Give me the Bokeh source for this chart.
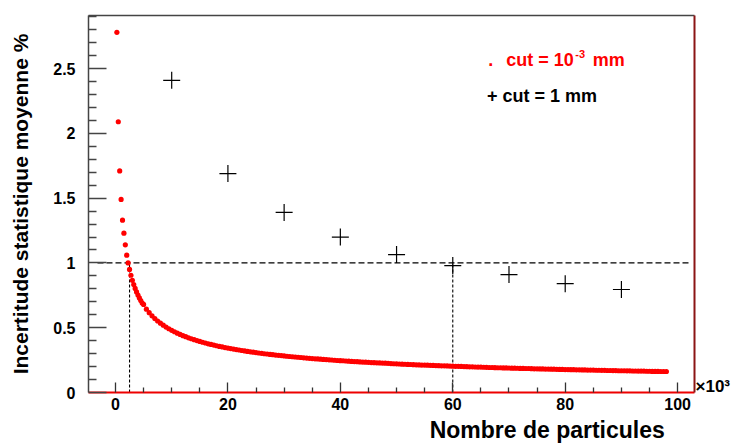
import math
import numpy as np
from bokeh.plotting import figure
from bokeh.models import (Range1d, FixedTicker, LinearAxis, Label,
                          CustomJSTickFormatter, ColumnDataSource)
from bokeh.embed import file_html
from bokeh.resources import INLINE

# ---------------- data (x in units of 10^3 particles) ----------------
n_fine = np.arange(0.25, 5.001, 0.25)
unc_fine = [2.78, 2.09, 1.71, 1.49, 1.33, 1.23, 1.14, 1.06, 1.00, 0.95,
            0.905, 0.866, 0.833, 0.803, 0.776, 0.752, 0.730, 0.710, 0.691, 0.680]

n_coarse = np.arange(5.5, 98.001, 0.5)
unc_coarse = [
    0.643, 0.616, 0.592, 0.571, 0.552, 0.535, 0.520, 0.505, 0.492, 0.480,
    0.469, 0.458, 0.448, 0.439, 0.431, 0.422, 0.415, 0.408, 0.401, 0.394,
    0.388, 0.382, 0.376, 0.371, 0.366, 0.361, 0.356, 0.352, 0.347, 0.343,
    0.339, 0.335, 0.331, 0.328, 0.324, 0.321, 0.317, 0.314, 0.311, 0.308,
    0.305, 0.302, 0.299, 0.297, 0.294, 0.292, 0.289, 0.287, 0.285, 0.282,
    0.280, 0.278, 0.276, 0.274, 0.272, 0.270, 0.268, 0.266, 0.264, 0.262,
    0.260, 0.259, 0.257, 0.255, 0.254, 0.252, 0.251, 0.249, 0.247, 0.246,
    0.245, 0.243, 0.242, 0.240, 0.239, 0.238, 0.236, 0.235, 0.234, 0.233,
    0.231, 0.230, 0.229, 0.228, 0.227, 0.226, 0.225, 0.223, 0.222, 0.221,
    0.220, 0.219, 0.218, 0.217, 0.216, 0.215, 0.214, 0.213, 0.212, 0.212,
    0.211, 0.210, 0.209, 0.208, 0.207, 0.206, 0.206, 0.205, 0.204, 0.203,
    0.202, 0.202, 0.201, 0.200, 0.199, 0.198, 0.198, 0.197, 0.196, 0.196,
    0.195, 0.194, 0.193, 0.193, 0.192, 0.191, 0.191, 0.190, 0.190, 0.189,
    0.188, 0.188, 0.187, 0.186, 0.186, 0.185, 0.185, 0.184, 0.183, 0.183,
    0.182, 0.182, 0.181, 0.181, 0.180, 0.180, 0.179, 0.178, 0.178, 0.177,
    0.177, 0.176, 0.176, 0.175, 0.175, 0.174, 0.174, 0.173, 0.173, 0.173,
    0.172, 0.172, 0.171, 0.171, 0.170, 0.170, 0.169, 0.169, 0.168, 0.168,
    0.168, 0.167, 0.167, 0.166, 0.166, 0.165, 0.165, 0.165, 0.164, 0.164,
    0.163, 0.163, 0.163, 0.162, 0.162, 0.162,
]

n_cross = [10, 20, 30, 40, 50, 60, 70, 80, 90]
unc_cross = [2.41, 1.69, 1.39, 1.20, 1.065, 0.98, 0.91, 0.84, 0.795]

threshold = 1.0
n_at_threshold = [2.5, 60]
x_ticks = [0, 20, 40, 60, 80, 100]
x_minor = [5, 10, 15, 25, 30, 35, 45, 50, 55, 65, 70, 75, 85, 90, 95]
y_ticks = [0, 0.5, 1, 1.5, 2, 2.5]
y_minor = [0.1, 0.2, 0.3, 0.4, 0.6, 0.7, 0.8, 0.9, 1.1, 1.2, 1.3, 1.4,
           1.6, 1.7, 1.8, 1.9, 2.1, 2.2, 2.3, 2.4, 2.6, 2.7, 2.8, 2.9]

x_title = "Nombre de particules"
y_title = "Incertitude statistique moyenne %"
x_multiplier = "\u00d710\u00b3"
legend_red = ["cut = 10", "-3", "mm"]
legend_black = "+ cut = 1 mm"

FONT = "Liberation Sans"

XMIN, XMAX = -4.8, 103.0
YMIN, YMAX = 0.0, 2.91

p = figure(width=732, height=448, output_backend="svg", toolbar_location=None,
           x_range=Range1d(XMIN, XMAX), y_range=Range1d(YMIN, YMAX),
           min_border_left=88, min_border_right=38, min_border_top=15,
           min_border_bottom=56)
p.outline_line_color = None
p.grid.visible = False
p.background_fill_color = "white"
p.border_fill_color = "white"

# bottom axis
xa = p.xaxis[0]
xa.ticker = FixedTicker(ticks=x_ticks, minor_ticks=x_minor)
xa.axis_line_color = "#ee0000"
xa.axis_line_width = 2
xa.major_tick_in = 10
xa.major_tick_out = 0
xa.minor_tick_in = 5
xa.minor_tick_out = 0
xa.major_tick_line_color = "#333333"
xa.minor_tick_line_color = "#333333"
xa.major_tick_line_width = 1.3
xa.minor_tick_line_width = 1.3
xa.major_label_standoff = 5
xa.major_label_text_font = FONT
xa.major_label_text_font_style = "bold"
xa.major_label_text_font_size = "16px"
xa.major_label_text_color = "black"

# x title as a second, bare axis below (label centred on one tick)
xt = LinearAxis(ticker=FixedTicker(ticks=[76.8]),
                formatter=CustomJSTickFormatter(code="return '%s';" % x_title),
                axis_line_color=None, major_tick_out=0, major_tick_in=0,
                minor_tick_out=0, minor_tick_in=0, major_label_standoff=4,
                major_label_text_font=FONT, major_label_text_font_style="bold",
                major_label_text_font_size="23px", major_label_text_color="black")
p.add_layout(xt, "below")

# left axis
ya = p.yaxis[0]
ya.ticker = FixedTicker(ticks=y_ticks, minor_ticks=y_minor)
ya.formatter = CustomJSTickFormatter(code="return tick.toString();")
ya.axis_line_color = "#444444"
ya.axis_line_width = 1.5
ya.major_tick_in = 18
ya.major_tick_out = 0
ya.minor_tick_in = 8
ya.minor_tick_out = 0
ya.major_tick_line_color = "#444444"
ya.minor_tick_line_color = "#444444"
ya.major_tick_line_width = 1.3
ya.minor_tick_line_width = 1.3
ya.major_label_standoff = 13
ya.major_label_text_font = FONT
ya.major_label_text_font_style = "bold"
ya.major_label_text_font_size = "16px"
ya.major_label_text_color = "black"
ya.axis_label = y_title
ya.axis_label_text_font = FONT
ya.axis_label_text_font_style = "bold"
ya.axis_label_text_font_size = "21px"
ya.axis_label_text_color = "black"
ya.axis_label_standoff = 18

# frame top
top = LinearAxis(ticker=FixedTicker(ticks=[]), axis_line_color="#444444",
                 axis_line_width=1.5, major_tick_out=0, major_tick_in=0,
                 minor_tick_out=0, minor_tick_in=0, major_label_standoff=0,
                 major_label_text_font_size="0px")
p.add_layout(top, "above")

# frame right, carrying the x10^3 multiplier as its only label
right = LinearAxis(ticker=FixedTicker(ticks=[0.05]),
                   formatter=CustomJSTickFormatter(code="return '%s';" % x_multiplier),
                   axis_line_color="#8b1515", axis_line_width=2,
                   major_tick_out=0, major_tick_in=0, minor_tick_out=0,
                   minor_tick_in=0, major_label_standoff=1,
                   major_label_text_font=FONT, major_label_text_font_style="bold",
                   major_label_text_font_size="17px",
                   major_label_text_color="black")
p.add_layout(right, "right")

# dashed reference lines
p.segment(x0=[XMIN + 1.6], y0=[threshold], x1=[XMAX - 0.7], y1=[threshold],
          line_color="black", line_width=1.2, line_dash="6 3")
p.segment(x0=n_at_threshold, y0=[0, 0], x1=n_at_threshold,
          y1=[threshold, threshold], line_color="black", line_width=1.1,
          line_dash="3 2")

# series
red_src = ColumnDataSource(dict(x=np.concatenate([n_fine, n_coarse]),
                                y=np.array(unc_fine + unc_coarse)))
p.scatter("x", "y", source=red_src, marker="circle", size=5.2,
          fill_color="#ff0000", line_color=None)
p.scatter(n_cross, unc_cross, marker="cross", size=17, line_color="black",
          line_width=1.2)

# legend texts (inside the frame)
def lab(x, y, text, size, color="black"):
    p.add_layout(Label(x=x, y=y, text=text, text_font=FONT,
                       text_font_style="bold", text_font_size=size,
                       text_color=color, text_align="left",
                       text_baseline="alphabetic"))

lab(66.3, 2.57, ".", "18px", color="#ff0000")
lab(69.5, 2.57, legend_red[0], "18px", color="#ff0000")
lab(81.8, 2.615, legend_red[1], "11px", color="#ff0000")
lab(84.9, 2.57, legend_red[2], "18px", color="#ff0000")
lab(66.1, 2.29, legend_black, "18px")

open("out.html", "w").write(file_html(p, INLINE))
